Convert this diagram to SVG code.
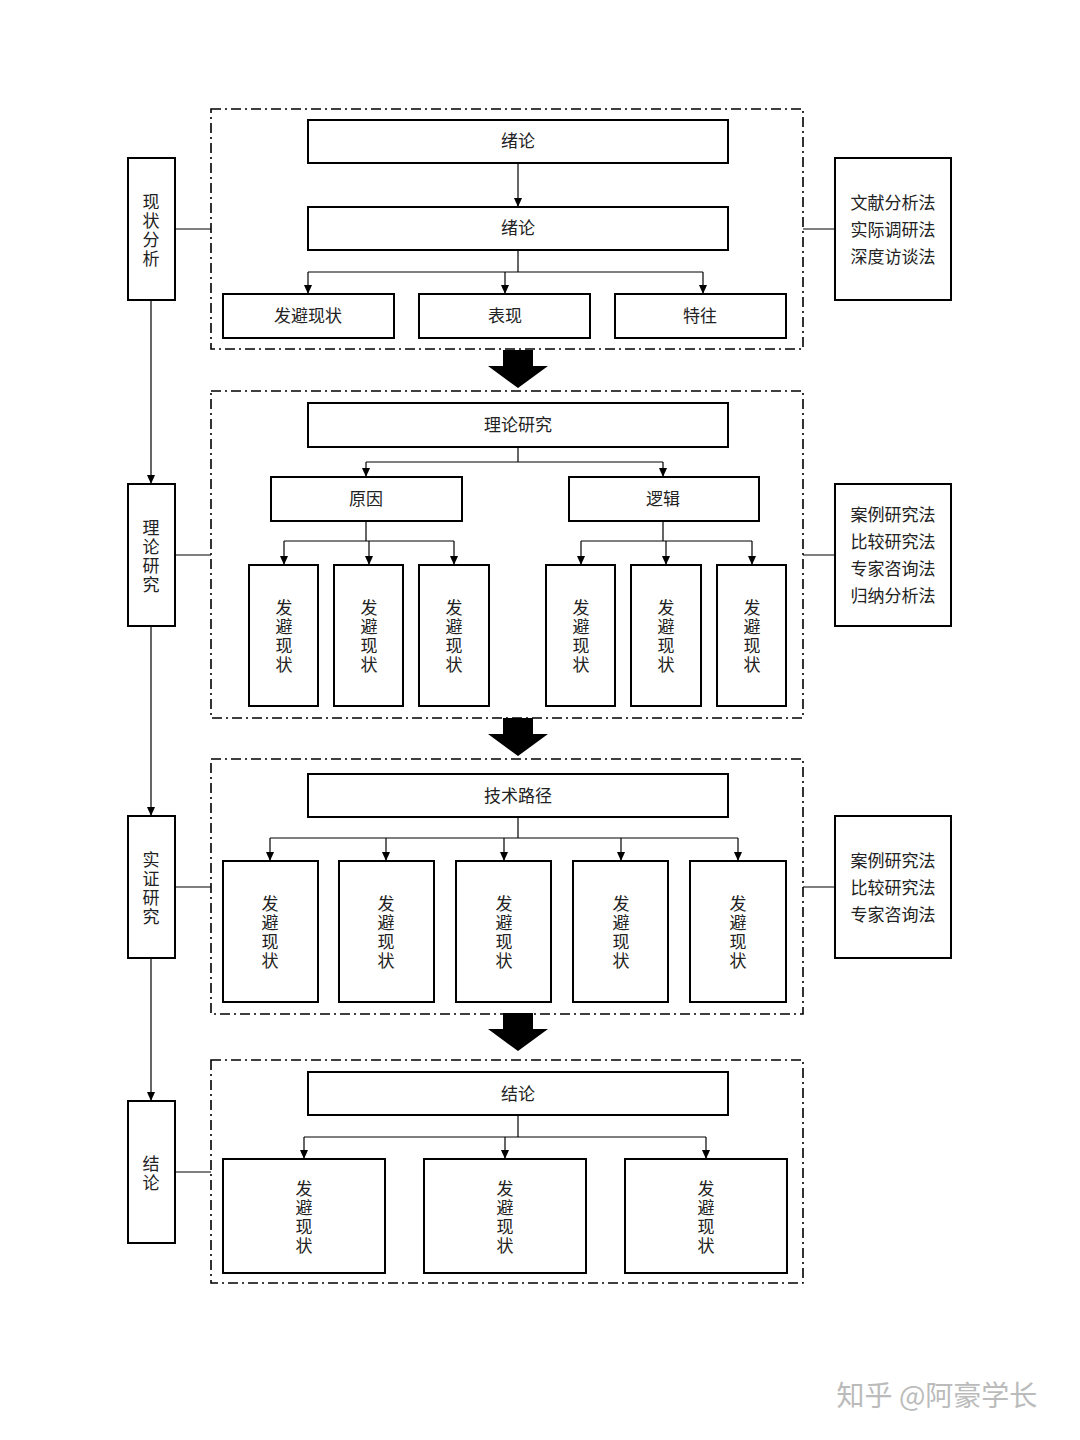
<svg xmlns="http://www.w3.org/2000/svg" width="1080" height="1440" viewBox="0 0 1080 1440">
<defs>
<style>
.b{fill:#fff;stroke:#000;stroke-width:2}
.f{fill:none;stroke:#000;stroke-width:1.6;stroke-dasharray:10 4 2 4}
.l{fill:none;stroke:#000;stroke-width:1.2}
.a{fill:none;stroke:#000;stroke-width:1.2;marker-end:url(#ah)}
text{font-family:"Liberation Serif","Noto Sans CJK SC",serif;font-size:17px;fill:#222;text-anchor:middle}
</style>
<marker id="ah" markerWidth="10" markerHeight="10" refX="9" refY="5" orient="auto" markerUnits="userSpaceOnUse"><path d="M0,1 L9,5 L0,9 Z" fill="#000"/></marker>
<path id="big" d="M-15,0 H15 V16 H30 L0,38 L-30,16 H-15 Z" fill="#000"/>
</defs>
<rect width="1080" height="1440" fill="#fff"/>
<g id="frames">
<rect class="f" x="211" y="109" width="592" height="240"/>
<rect class="f" x="211" y="391" width="592" height="327"/>
<rect class="f" x="211" y="759" width="592" height="255"/>
<rect class="f" x="211" y="1060" width="592" height="223"/>
</g>
<g id="connectors">
<path class="a" d="M151,300 V484"/><path class="a" d="M151,626 V816"/><path class="a" d="M151,958 V1101"/>
<path class="l" d="M175,229 H211 M175,555 H211 M175,887 H211 M175,1172 H211 M803,229 H835 M803,555 H835 M803,887 H835"/>
<path class="a" d="M518,163 V207"/>
<path class="l" d="M518,250 V272 M308,272 H703"/>
<path class="a" d="M308,272 V294"/><path class="a" d="M505,272 V294"/><path class="a" d="M703,272 V294"/>
<path class="l" d="M518,447 V462 M366,462 H663"/>
<path class="a" d="M366,462 V477"/><path class="a" d="M663,462 V477"/>
<path class="l" d="M366,521 V541 M284,541 H454 M663,521 V541 M581,541 H752"/>
<path class="a" d="M284,541 V565"/><path class="a" d="M369,541 V565"/><path class="a" d="M454,541 V565"/>
<path class="a" d="M581,541 V565"/><path class="a" d="M666,541 V565"/><path class="a" d="M752,541 V565"/>
<path class="l" d="M518,817 V838 M270,838 H738"/>
<path class="a" d="M270,838 V861"/><path class="a" d="M386,838 V861"/><path class="a" d="M504,838 V861"/><path class="a" d="M621,838 V861"/><path class="a" d="M738,838 V861"/>
<path class="l" d="M518,1115 V1137 M304,1137 H706"/>
<path class="a" d="M304,1137 V1159"/><path class="a" d="M505,1137 V1159"/><path class="a" d="M706,1137 V1159"/>
<use href="#big" x="518" y="350"/><use href="#big" x="518" y="718"/><use href="#big" x="518" y="1013"/>
</g>
<g id="left">
<rect class="b" x="128" y="158" width="47" height="142"/><text x="151" y="208">现<tspan x="151" dy="19">状</tspan><tspan x="151" dy="19">分</tspan><tspan x="151" dy="19">析</tspan></text>
<rect class="b" x="128" y="484" width="47" height="142"/><text x="151" y="534">理<tspan x="151" dy="19">论</tspan><tspan x="151" dy="19">研</tspan><tspan x="151" dy="19">究</tspan></text>
<rect class="b" x="128" y="816" width="47" height="142"/><text x="151" y="866">实<tspan x="151" dy="19">证</tspan><tspan x="151" dy="19">研</tspan><tspan x="151" dy="19">究</tspan></text>
<rect class="b" x="128" y="1101" width="47" height="142"/><text x="151" y="1170">结<tspan x="151" dy="19">论</tspan></text>
</g>
<g id="right">
<rect class="b" x="835" y="158" width="116" height="142"/><text x="893" y="209">文献分析法<tspan x="893" dy="27">实际调研法</tspan><tspan x="893" dy="27">深度访谈法</tspan></text>
<rect class="b" x="835" y="484" width="116" height="142"/><text x="893" y="521">案例研究法<tspan x="893" dy="27">比较研究法</tspan><tspan x="893" dy="27">专家咨询法</tspan><tspan x="893" dy="27">归纳分析法</tspan></text>
<rect class="b" x="835" y="816" width="116" height="142"/><text x="893" y="867">案例研究法<tspan x="893" dy="27">比较研究法</tspan><tspan x="893" dy="27">专家咨询法</tspan></text>
</g>
<g id="s1">
<rect class="b" x="308" y="120" width="420" height="43"/><text x="518" y="147">绪论</text>
<rect class="b" x="308" y="207" width="420" height="43"/><text x="518" y="234">绪论</text>
<rect class="b" x="223" y="294" width="171" height="44"/><text x="308" y="322">发避现状</text>
<rect class="b" x="419" y="294" width="171" height="44"/><text x="505" y="322">表现</text>
<rect class="b" x="615" y="294" width="171" height="44"/><text x="700" y="322">特往</text>
</g>
<g id="s2">
<rect class="b" x="308" y="403" width="420" height="44"/><text x="518" y="431">理论研究</text>
<rect class="b" x="271" y="477" width="191" height="44"/><text x="366" y="505">原因</text>
<rect class="b" x="569" y="477" width="190" height="44"/><text x="663" y="505">逻辑</text>
<rect class="b" x="249" y="565" width="69" height="141"/><rect class="b" x="334" y="565" width="69" height="141"/><rect class="b" x="419" y="565" width="70" height="141"/>
<rect class="b" x="546" y="565" width="69" height="141"/><rect class="b" x="631" y="565" width="70" height="141"/><rect class="b" x="717" y="565" width="69" height="141"/>
<text x="284" y="614">发<tspan x="284" dy="19">避</tspan><tspan x="284" dy="19">现</tspan><tspan x="284" dy="19">状</tspan></text>
<text x="369" y="614">发<tspan x="369" dy="19">避</tspan><tspan x="369" dy="19">现</tspan><tspan x="369" dy="19">状</tspan></text>
<text x="454" y="614">发<tspan x="454" dy="19">避</tspan><tspan x="454" dy="19">现</tspan><tspan x="454" dy="19">状</tspan></text>
<text x="581" y="614">发<tspan x="581" dy="19">避</tspan><tspan x="581" dy="19">现</tspan><tspan x="581" dy="19">状</tspan></text>
<text x="666" y="614">发<tspan x="666" dy="19">避</tspan><tspan x="666" dy="19">现</tspan><tspan x="666" dy="19">状</tspan></text>
<text x="752" y="614">发<tspan x="752" dy="19">避</tspan><tspan x="752" dy="19">现</tspan><tspan x="752" dy="19">状</tspan></text>
</g>
<g id="s3">
<rect class="b" x="308" y="774" width="420" height="43"/><text x="518" y="802">技术路径</text>
<rect class="b" x="223" y="861" width="95" height="141"/><rect class="b" x="339" y="861" width="95" height="141"/><rect class="b" x="456" y="861" width="95" height="141"/><rect class="b" x="573" y="861" width="95" height="141"/><rect class="b" x="690" y="861" width="96" height="141"/>
<text x="270" y="910">发<tspan x="270" dy="19">避</tspan><tspan x="270" dy="19">现</tspan><tspan x="270" dy="19">状</tspan></text>
<text x="386" y="910">发<tspan x="386" dy="19">避</tspan><tspan x="386" dy="19">现</tspan><tspan x="386" dy="19">状</tspan></text>
<text x="504" y="910">发<tspan x="504" dy="19">避</tspan><tspan x="504" dy="19">现</tspan><tspan x="504" dy="19">状</tspan></text>
<text x="621" y="910">发<tspan x="621" dy="19">避</tspan><tspan x="621" dy="19">现</tspan><tspan x="621" dy="19">状</tspan></text>
<text x="738" y="910">发<tspan x="738" dy="19">避</tspan><tspan x="738" dy="19">现</tspan><tspan x="738" dy="19">状</tspan></text>
</g>
<g id="s4">
<rect class="b" x="308" y="1072" width="420" height="43"/><text x="518" y="1100">结论</text>
<rect class="b" x="223" y="1159" width="162" height="114"/><rect class="b" x="424" y="1159" width="162" height="114"/><rect class="b" x="625" y="1159" width="162" height="114"/>
<text x="304" y="1195">发<tspan x="304" dy="19">避</tspan><tspan x="304" dy="19">现</tspan><tspan x="304" dy="19">状</tspan></text>
<text x="505" y="1195">发<tspan x="505" dy="19">避</tspan><tspan x="505" dy="19">现</tspan><tspan x="505" dy="19">状</tspan></text>
<text x="706" y="1195">发<tspan x="706" dy="19">避</tspan><tspan x="706" dy="19">现</tspan><tspan x="706" dy="19">状</tspan></text>
</g>
<text x="937" y="1406" style="font-family:'Noto Sans CJK SC',sans-serif;font-size:28px;fill:#bbb">知乎 @阿豪学长</text>
</svg>
